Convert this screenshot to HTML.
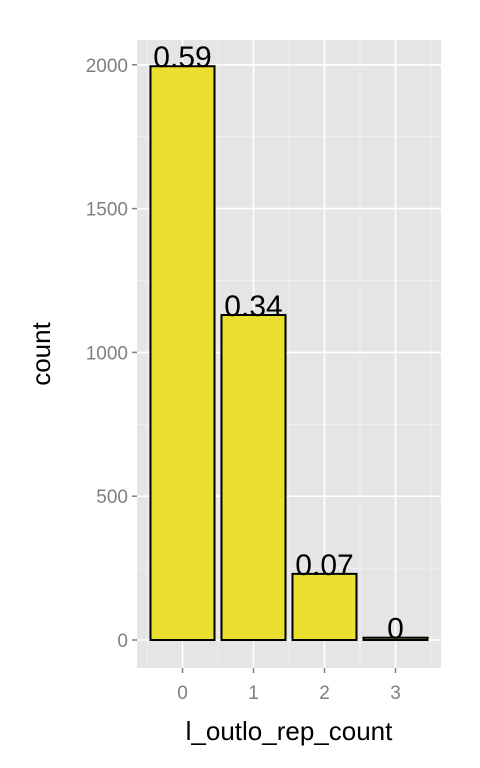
<!DOCTYPE html>
<html><head><meta charset="utf-8"><style>body{margin:0;background:#fff}svg{display:block}</style></head><body>
<svg id="c" width="480" height="768" xmlns="http://www.w3.org/2000/svg" font-family="Liberation Sans, sans-serif"></svg>
<script>
const categories=["0","1","2","3"];
const counts=[1995,1130,230,8];
const labels=["0.59","0.34","0.07","0"];
const yTicks=[0,500,1000,1500,2000];
const NS="http://www.w3.org/2000/svg",svg=document.getElementById('c');
const L=137,R=441,T=40,B=668;
const y=v=>640-v*0.2876;
const step=71;
const x=i=>182.5+i*step;
function el(t,a,p){const e=document.createElementNS(NS,t);for(const k in a)e.setAttribute(k,a[k]);(p||svg).appendChild(e);return e;}
const panel=el('rect',{x:L,y:T,width:R-L,height:B-T,fill:'#e5e5e5'});


for(let v=250;v<2300;v+=500){const yy=y(v);if(yy>T){const g=el('line',{x1:L,x2:R,y1:yy,y2:yy,stroke:'#f2f2f2','stroke-width':0.8});}}
for(let i=0;i<=4;i++){const xx=x(i)-step/2;const g=el('line',{x1:xx,x2:xx,y1:T,y2:B,stroke:'#f2f2f2','stroke-width':0.8});}
yTicks.forEach(v=>{const g=el('line',{x1:L,x2:R,y1:y(v),y2:y(v),stroke:'#fff','stroke-width':1.6});
const t=el('line',{x1:L-5,x2:L,y1:y(v),y2:y(v),stroke:'#7f7f7f','stroke-width':1.5});
const tl=el('text',{x:L-9,y:y(v)+7,'text-anchor':'end','font-size':19,fill:'#7f7f7f'});tl.textContent=v;});
categories.forEach((c,i)=>{const g=el('line',{x1:x(i),x2:x(i),y1:T,y2:B,stroke:'#fff','stroke-width':1.6});
const t=el('line',{x1:x(i),x2:x(i),y1:B,y2:B+5,stroke:'#7f7f7f','stroke-width':1.5});
const tl=el('text',{x:x(i),y:B+31,'text-anchor':'middle','font-size':19,fill:'#7f7f7f'});tl.textContent=c;});
categories.forEach((c,i)=>{const w=64,top=y(counts[i]);
const b=el('rect',{x:x(i)-w/2,y:top,width:w,height:y(0)-top,fill:'#ebe032',stroke:'#000','stroke-width':2});
const t=el('text',{x:x(i),y:top+1,'text-anchor':'middle','font-size':30,fill:'#000'});t.textContent=labels[i];});
const xt=el('text',{x:289,y:740,'text-anchor':'middle','font-size':26,fill:'#000'});xt.textContent='l_outlo_rep_count';
const yt=el('text',{x:0,y:0,transform:'translate(50,354) rotate(-90)','text-anchor':'middle','font-size':26,fill:'#000'});yt.textContent='count';
</script>
</body></html>
